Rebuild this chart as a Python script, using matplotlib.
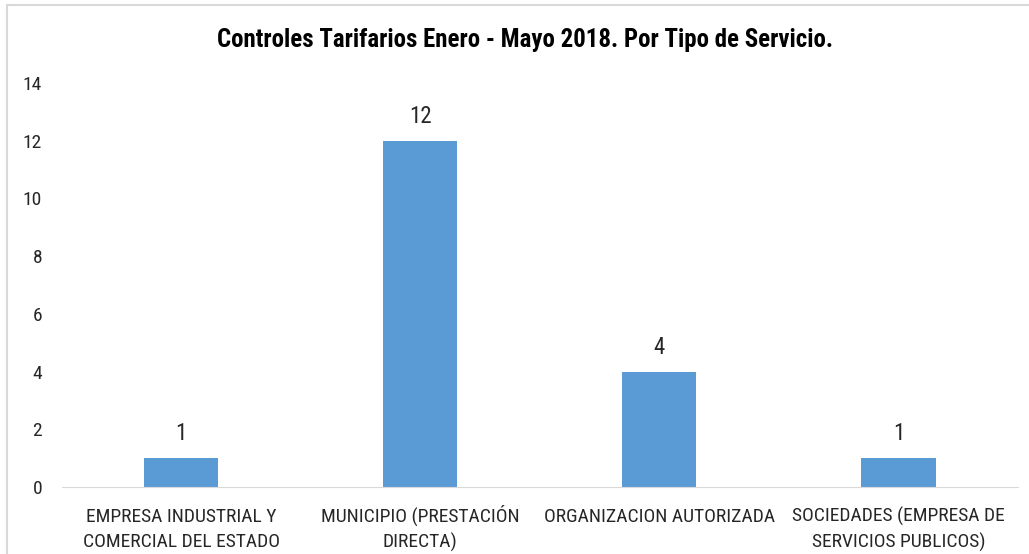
import matplotlib.pyplot as plt
from matplotlib.patches import Rectangle

categories = ['EMPRESA INDUSTRIAL Y\nCOMERCIAL DEL ESTADO',
              'MUNICIPIO (PRESTACIÓN\nDIRECTA)',
              'ORGANIZACION AUTORIZADA',
              'SOCIEDADES (EMPRESA DE\nSERVICIOS PUBLICOS)']
values = [1, 12, 4, 1]
yticks = [0, 2, 4, 6, 8, 10, 12, 14]

plt.rcParams['font.family'] = ['Roboto Condensed', 'Liberation Sans Narrow', 'Roboto', 'DejaVu Sans']

fig = plt.figure(figsize=(10.29, 5.54), dpi=100)
ax = fig.add_axes([61.5/1029, 67/554, (1018-61.5)/1029, 404/554])

# light gray frame like the original export
fig.patches.append(Rectangle((7/1029, -0.1), 1.2, (554-5)/554 + 0.1, transform=fig.transFigure,
                             fill=False, edgecolor='#d9d9d9', linewidth=1.5))

x = range(len(categories))
bars = ax.bar(x, values, width=0.31, color='#5b9bd5')
for b, v in zip(bars, values):
    ax.annotate(str(v), (b.get_x() + b.get_width()/2, v), xytext=(0, 13),
                textcoords='offset points', ha='center', va='baseline',
                fontsize=16.5, color='#262626')

ax.set_xlim(-0.5, len(categories) - 0.5)
ax.set_ylim(0, 14)
ax.set_yticks(yticks)
ax.set_xticks([])
ax.tick_params(axis='y', labelsize=14, labelcolor='#262626', length=0, pad=14)

# category labels, one line at a time so the baselines line up
for i, lab in enumerate(categories):
    for j, line in enumerate(lab.split('\n')):
        ax.annotate(line, (i, 0), xycoords=('data', 'axes fraction'),
                    xytext=(0, -25 - 18.5*j), textcoords='offset points',
                    ha='center', va='baseline', fontsize=14, color='#262626')

for s in ['top', 'right', 'left']:
    ax.spines[s].set_visible(False)
ax.spines['bottom'].set_color('#d9d9d9')

fig.text(525/1029, 1 - 40/554, 'Controles Tarifarios Enero - Mayo 2018. Por Tipo de Servicio.',
         ha='center', va='center', fontsize=17.9, fontweight='bold', color='#000000')

fig.savefig('out.png', dpi=100)
